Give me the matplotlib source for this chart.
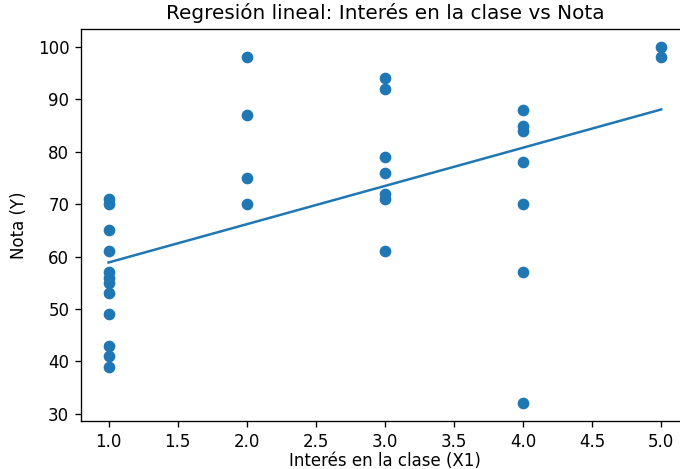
import numpy as np
import matplotlib
matplotlib.use("Agg")
import matplotlib.pyplot as plt

interes = [1]*12 + [2]*4 + [3]*7 + [4]*7 + [5]*2
nota = [71, 70, 65, 61, 57, 56, 55, 53, 49, 43, 41, 39,
        98, 87, 75, 70,
        94, 92, 79, 76, 72, 71, 61,
        88, 85, 84, 78, 70, 57, 32,
        100, 98]

x = np.array(interes, dtype=float)
y = np.array(nota, dtype=float)
m, b = np.polyfit(x, y, 1)
xs = np.sort(x)

fig, ax = plt.subplots(figsize=(680 / 120, 469 / 120), dpi=120)
fig.subplots_adjust(left=0.119, right=1.013, top=0.938, bottom=0.102)
ax.scatter(x, y, color="#1f77b4")
ax.plot(xs, m * xs + b, color="#1f77b4")
ax.set_title("Regresión lineal: Interés en la clase vs Nota")
ax.set_xlabel("Interés en la clase (X1)", labelpad=0.5)
ax.set_ylabel("Nota (Y)", labelpad=5.5)
fig.savefig("out.png", dpi=120)
